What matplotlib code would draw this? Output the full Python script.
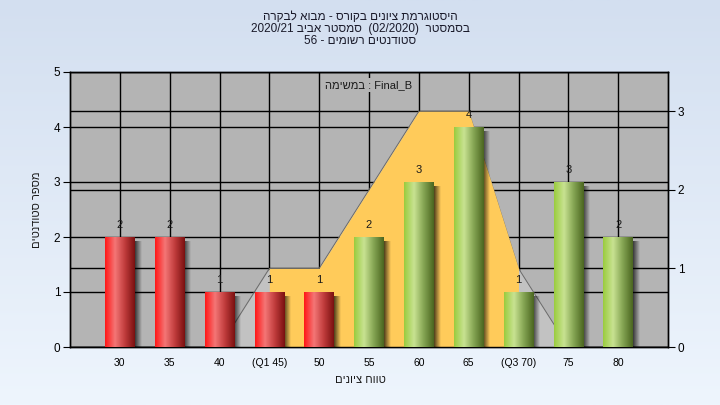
import re
import numpy as np
import matplotlib
matplotlib.use('Agg')
import matplotlib.pyplot as plt
from matplotlib.colors import LinearSegmentedColormap, to_rgb

plt.rcParams['font.family'] = ['Liberation Sans', 'DejaVu Sans']

# data
scores = [30, 35, 40, 45, 50, 55, 60, 65, 70, 75, 80]
tick_labels = ['30', '35', '40', '(Q1 45)', '50', '55', '60', '65', '(Q3 70)', '75', '80']
counts = [2, 2, 1, 1, 1, 2, 3, 4, 1, 3, 2]
dist = [0, 0, 0, 1, 1, 2, 3, 3, 1, 0, 0]          # secondary axis series
q1, q3 = 45, 70
pass_mark = 55

title_lines = [
    'היסטוגרמת ציונים בקורס - מבוא לבקרה',
    'בסמסטר  (02/2020)  סמסטר אביב 2020/21',
    'סטודנטים רשומים - 56',
]
note = 'Final_B : במשימה'
ylabel = 'מספר סטודנטים'
xlabel = 'טווח ציונים'


def visual(s):
    # crude rtl -> visual order, keeps latin/digit runs readable
    r = s[::-1]
    r = re.sub(r'[A-Za-z0-9_./:]+', lambda m: m.group(0)[::-1], r)
    return r.translate(str.maketrans('()', ')('))


W, H = 720, 405
fig = plt.figure(figsize=(7.2, 4.05), dpi=100)

# background gradient
bg = fig.add_axes([0, 0, 1, 1], zorder=-10)
g = np.linspace(0, 1, 256)[:, None]
top, bot = np.array(to_rgb('#d3dff0')), np.array(to_rgb('#eef5fd'))
bg.imshow(top + (bot - top) * g[..., None], aspect='auto', extent=(0, 1, 0, 1))
bg.axis('off')

rect = [70 / W, (H - 347) / H, 598 / W, 275 / H]
ax2 = fig.add_axes(rect, zorder=1)
ax = fig.add_axes(rect, zorder=2, sharex=ax2)
ax.patch.set_visible(False)
ax2.patch.set_facecolor('#b4b4b4')

x = np.arange(len(scores))
ax2.set_ylim(0, 3.5)
ax.set_ylim(0, 5)
ax.set_xlim(-1, len(scores))

# grids
ax2.set_yticks([0, 1, 2, 3])
ax2.grid(axis='y', color='black', lw=1)
ax.set_yticks([0, 1, 2, 3, 4, 5])
ax.set_xticks(x)
ax.set_axisbelow(True)
ax.grid(color='black', lw=1)

# distribution area on secondary scale, drawn in ax so bars sit on top
sc = np.array(scores)
iqr = (sc >= q1) & (sc <= q3)
ax.fill_between(x, dist, color='#c2c2c2', lw=0, zorder=1, transform=ax2.transData)
ax.fill_between(x, dist, where=iqr, color='#ffcb5a', lw=0, zorder=1.2,
                transform=ax2.transData)
ax.plot(x, dist, color='#6a6a6a', lw=0.7, zorder=1.1, transform=ax2.transData)

red = LinearSegmentedColormap.from_list('r', ['#ff1616', '#f47676', '#c03c3c', '#7a1010'])
green = LinearSegmentedColormap.from_list('g', ['#9acc3e', '#c8e292', '#84a452', '#4a6520'])
grad = np.linspace(0, 1, 128)[None, :]

bars = ax.bar(x, counts, width=0.59, color='none', zorder=3)
for b, s, c in zip(bars, scores, counts):
    x0, w, h = b.get_x(), b.get_width(), b.get_height()
    # shadow
    sh = np.zeros((1, 64, 4))
    sh[..., 3] = np.linspace(0.8, 0, 64)
    ax.imshow(sh, aspect='auto', extent=(x0 + w - 0.02, x0 + w + 0.14, 0, h - 0.09),
              zorder=2.5, interpolation='bilinear')
    im = ax.imshow(grad, cmap=green if s >= pass_mark else red, aspect='auto',
                   extent=(x0, x0 + w, 0, h), zorder=3, interpolation='bilinear')
    im.set_clip_path(b)
    ax.text(x0 + w / 2, h + 0.12, str(c), ha='center', va='bottom', fontsize=8,
            color='#1a1a1a', zorder=4)

ax.set_xlim(-1, len(scores))
ax.set_ylim(0, 5)
ax2.set_ylim(0, 3.5)

ax.set_xticklabels(tick_labels, fontsize=7.5)
ax.tick_params(axis='x', length=0, pad=8)
ax.tick_params(axis='y', direction='out', length=5, labelsize=8.5, pad=2)
ax2.yaxis.tick_right()
ax2.tick_params(axis='y', direction='out', length=5, labelsize=8.5, pad=2)
ax2.tick_params(axis='x', length=0, labelbottom=False)
for a in (ax, ax2):
    for sp in a.spines.values():
        sp.set_color('black')
        sp.set_linewidth(1)

ax.text(0.5, 0.953, visual(note), transform=ax.transAxes, ha='center', va='center',
        fontsize=8, color='#1a1a1a', zorder=5,
        bbox=dict(facecolor='#b4b4b4', edgecolor='none', pad=1.5))

for i, line in enumerate(title_lines):
    fig.text(0.5, 1 - (17 + 12 * i) / H, visual(line), ha='center', va='center',
             fontsize=8.5, color='#1a1a2a')

fig.text(37 / W, 1 - 210 / H, visual(ylabel), rotation=90, ha='center', va='center',
         fontsize=8, color='#1a1a1a')
fig.text(360 / W, 1 - 380 / H, visual(xlabel), ha='center', va='center',
         fontsize=8, color='#1a1a1a')

fig.savefig('out.png', dpi=100)
